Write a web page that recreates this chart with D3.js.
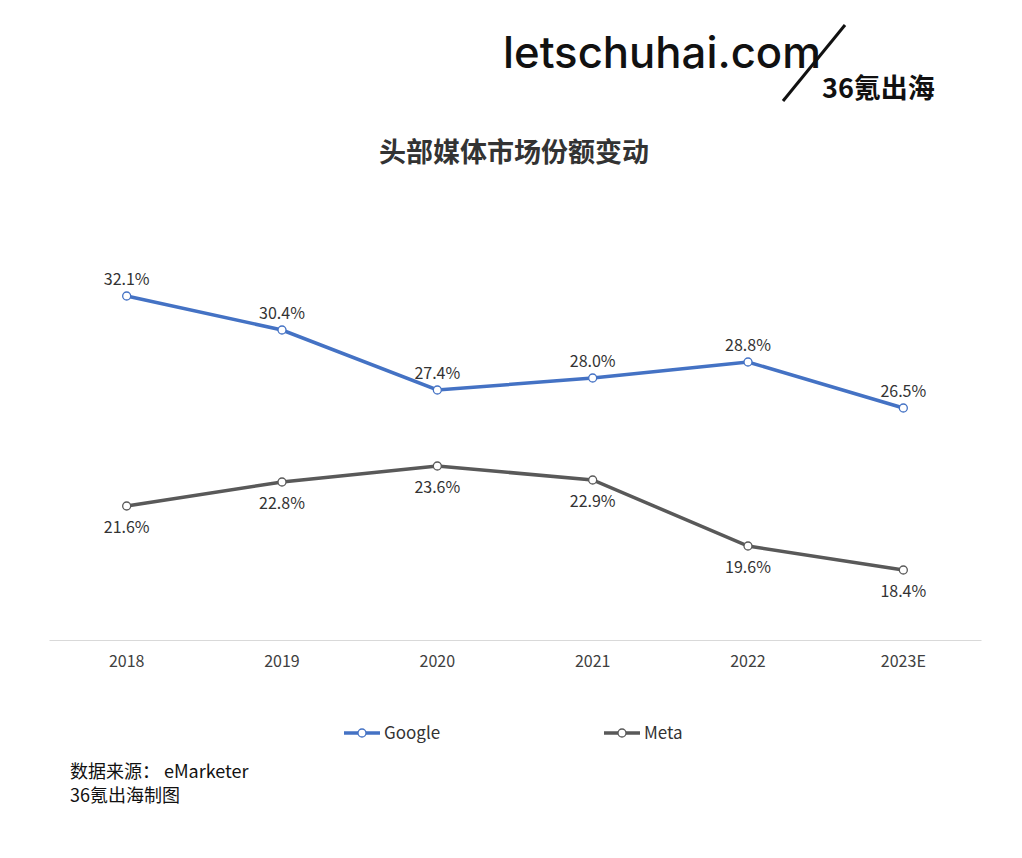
<!DOCTYPE html>
<html><head><meta charset="utf-8">
<script src="https://cdn.jsdelivr.net/npm/d3@7"></script>
<style>body{margin:0;background:#fff;}</style>
</head><body>
<svg id="chart" width="1022" height="858"></svg>
<script>
const years = ["2018", "2019", "2020", "2021", "2022", "2023E"];
const google = [32.1, 30.4, 27.4, 28.0, 28.8, 26.5];
const meta = [21.6, 22.8, 23.6, 22.9, 19.6, 18.4];
const seriesNames = ["Google", "Meta"];
const colors = ["#4472c4", "#595959"];

const svg = d3.select("#chart");
const font = "'Microsoft YaHei','Noto Sans CJK SC','Open Sans',sans-serif";

// logo
svg.append("text").attr("x", 503).attr("y", 68).attr("font-family", "Inter, 'Noto Sans', sans-serif")
    .attr("font-size", 44).attr("font-weight", 500).attr("fill", "#111")
    .attr("textLength", 318).attr("lengthAdjust", "spacingAndGlyphs").text("letschuhai.com");
svg.append("line").attr("x1", 845).attr("y1", 25).attr("x2", 783).attr("y2", 101)
    .attr("stroke", "#111").attr("stroke-width", 3);
svg.append("text").attr("x", 822).attr("y", 98).attr("font-family", "'Noto Sans CJK SC',sans-serif")
    .attr("font-weight", "bold").attr("font-size", 27).attr("fill", "#111").text("36氪出海");

svg.append("text").attr("x", 514).attr("y", 162).attr("text-anchor", "middle")
    .attr("font-family", font).attr("font-size", 27).attr("font-weight", "bold").attr("fill", "#333")
    .text("头部媒体市场份额变动");

const x = d3.scaleBand().domain(years).range([49, 981]);
const y = d3.scaleLinear().domain([14.9, 32.1]).range([640, 296]);

svg.append("g").attr("transform", "translate(0,640)")
    .call(d3.axisBottom(x).tickSize(0).tickPadding(16))
    .call(g => g.select(".domain").attr("stroke", "#d9d9d9"))
    .selectAll("text").attr("font-family", font).attr("font-size", 16).attr("fill", "#404040");

const line = d3.line().x((d, i) => x(years[i]) + x.bandwidth() / 2).y(d => y(d));
[google, meta].forEach((vals, s) => {
    const g = svg.append("g");
    g.append("path").attr("d", line(vals)).attr("fill", "none").attr("stroke", colors[s]).attr("stroke-width", 3.5);
    g.selectAll("circle").data(vals).join("circle")
        .attr("cx", (d, i) => x(years[i]) + x.bandwidth() / 2).attr("cy", d => y(d)).attr("r", 4)
        .attr("fill", "#fff").attr("stroke", colors[s]).attr("stroke-width", 1.3);
    g.selectAll("text").data(vals).join("text")
        .attr("x", (d, i) => x(years[i]) + x.bandwidth() / 2)
        .attr("y", d => y(d) + (s === 0 ? -11 : 27))
        .attr("text-anchor", "middle").attr("font-family", font).attr("font-size", 16).attr("fill", "#333")
        .text(d => d.toFixed(1) + "%");
});

// legend
const legX = [344, 604];
seriesNames.forEach((n, s) => {
    const g = svg.append("g").attr("transform", `translate(${legX[s]},733)`);
    g.append("line").attr("x1", 0).attr("x2", 36).attr("stroke", colors[s]).attr("stroke-width", 3.5);
    g.append("circle").attr("cx", 18).attr("r", 4).attr("fill", "#fff").attr("stroke", colors[s]).attr("stroke-width", 1.3);
    g.append("text").attr("x", 40).attr("y", 6).attr("font-family", font).attr("font-size", 17).attr("fill", "#333").text(n);
});

svg.append("text").attr("x", 70).attr("y", 778).attr("font-family", font).attr("font-size", 18).attr("fill", "#111").text("数据来源： eMarketer");
svg.append("text").attr("x", 70).attr("y", 802).attr("font-family", font).attr("font-size", 18).attr("fill", "#111").text("36氪出海制图");
</script>
</body></html>
